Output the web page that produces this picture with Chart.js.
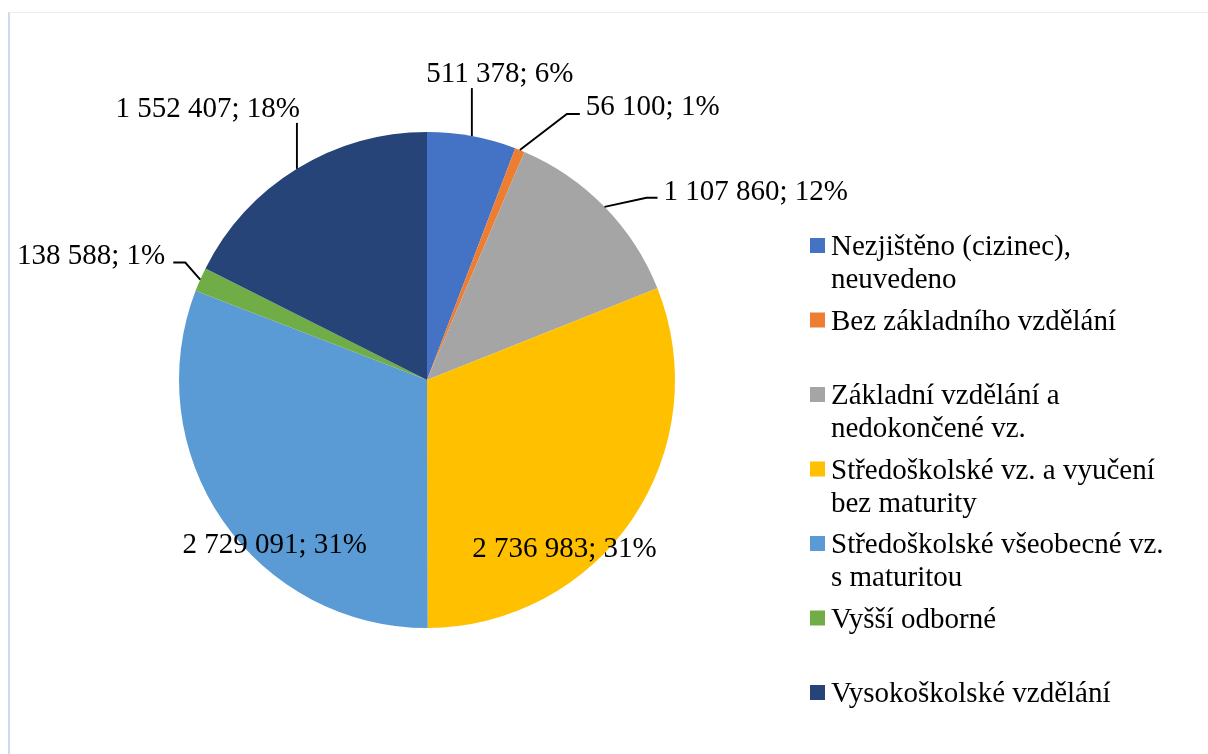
<!DOCTYPE html>
<html>
<head>
<meta charset="utf-8">
<script src="https://cdn.jsdelivr.net/npm/chart.js@4.4.0/dist/chart.umd.min.js"></script>
<style>
  html, body { margin: 0; padding: 0; background: #fff; }
  #wrap { position: relative; width: 1208px; height: 754px; overflow: hidden; }
  #frame { position: absolute; left: 8px; top: 12px; right: 0; bottom: 0;
           border-left: 2px solid #cdd9f0; border-top: 1px solid #ebebeb; }
  canvas { position: absolute; left: 0; top: 0; }
</style>
</head>
<body>
<div id="wrap">
  <div id="frame"></div>
  <canvas id="chart" width="1208" height="754"></canvas>
</div>
<script>
const categories = [
  'Nezjištěno (cizinec), neuvedeno',
  'Bez základního vzdělání',
  'Základní vzdělání a nedokončené vz.',
  'Středoškolské vz. a vyučení bez maturity',
  'Středoškolské všeobecné vz. s maturitou',
  'Vyšší odborné',
  'Vysokoškolské vzdělání'
];
const persons = [511378, 56100, 1107860, 2736983, 2729091, 138588, 1552407];
const shares = [6, 1, 12, 31, 31, 1, 18];
const colors = ['#4472C4', '#ED7D31', '#A5A5A5', '#FFC000', '#5B9BD5', '#70AD47', '#264478'];

const FONT = '29px "Liberation Serif", "Times New Roman", serif';

// where each data label sits, relative to the point where the slice middle meets the rim
const labelPlacement = [
  { leader: [[0, -48]], text: [28, -54], align: 'center' },
  { leader: [[47, -36], [60, -36]], text: [66, -35], align: 'left' },
  { leader: [[42, -9], [53, -9]], text: [59, -7], align: 'left' },
  { leader: null, text: [-68, 38], align: 'center' },
  { leader: null, text: [52, 32], align: 'center' },
  { leader: [[-15, -17], [-27, -17]], text: [-35, -16], align: 'right' },
  { leader: [[0, -46]], text: [3, -52], align: 'right' }
];

function fmt(n) {
  return n.toString().replace(/\B(?=(\d{3})+(?!\d))/g, ' ');
}

function wrapText(ctx, text, maxWidth) {
  const words = text.split(' ');
  const lines = [];
  let line = '';
  words.forEach(w => {
    const test = line ? line + ' ' + w : w;
    if (line && ctx.measureText(test).width > maxWidth) {
      lines.push(line);
      line = w;
    } else {
      line = test;
    }
  });
  if (line) lines.push(line);
  return lines;
}

const pieLabels = {
  id: 'pieLabels',
  afterDatasetsDraw(chart) {
    const ctx = chart.ctx;
    const arcs = chart.getDatasetMeta(0).data;
    ctx.save();
    ctx.font = FONT;
    ctx.fillStyle = '#000';
    ctx.strokeStyle = '#000';
    ctx.lineWidth = 1.9;
    ctx.textBaseline = 'alphabetic';
    arcs.forEach((arc, i) => {
      const { x, y, startAngle, endAngle, outerRadius } =
        arc.getProps(['x', 'y', 'startAngle', 'endAngle', 'outerRadius'], true);
      const mid = (startAngle + endAngle) / 2;
      const ex = x + Math.cos(mid) * outerRadius;
      const ey = y + Math.sin(mid) * outerRadius;
      const p = labelPlacement[i];
      if (p.leader) {
        ctx.beginPath();
        ctx.moveTo(ex, ey);
        p.leader.forEach(([dx, dy]) => ctx.lineTo(ex + dx, ey + dy));
        ctx.stroke();
      }
      ctx.textAlign = p.align;
      ctx.fillText(fmt(persons[i]) + '; ' + shares[i] + '%', ex + p.text[0], ey + p.text[1]);
    });
    ctx.restore();
  }
};

const sideLegend = {
  id: 'sideLegend',
  afterDraw(chart) {
    const ctx = chart.ctx;
    ctx.save();
    ctx.font = FONT;
    ctx.textAlign = 'left';
    ctx.textBaseline = 'alphabetic';
    categories.forEach((name, i) => {
      const base = 255 + i * 74.5;
      ctx.fillStyle = colors[i];
      ctx.fillRect(810, base - 17, 15, 15);
      ctx.fillStyle = '#000';
      wrapText(ctx, name, 345).forEach((line, k) => ctx.fillText(line, 831, base + k * 33));
    });
    ctx.restore();
  }
};

new Chart(document.getElementById('chart'), {
  type: 'pie',
  data: {
    labels: categories,
    datasets: [{
      data: persons,
      backgroundColor: colors,
      borderWidth: 0,
      hoverOffset: 0,
      offset: 0
    }]
  },
  options: {
    responsive: false,
    animation: false,
    events: [],
    layout: { padding: { left: 179, right: 533, top: 132, bottom: 126 } },
    plugins: {
      legend: { display: false },
      tooltip: { enabled: false }
    }
  },
  plugins: [pieLabels, sideLegend]
});
</script>
</body>
</html>
